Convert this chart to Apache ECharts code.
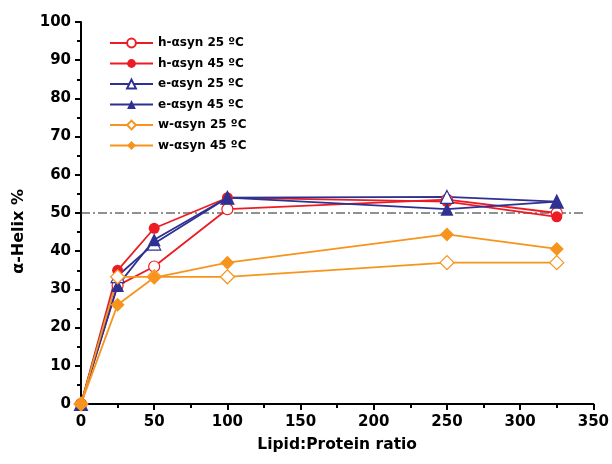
<!DOCTYPE html>
<html><head><meta charset="utf-8">
<script src="https://cdn.jsdelivr.net/npm/echarts@6/dist/echarts.min.js"></script>
<style>html,body{margin:0;padding:0;background:#fff}#c{width:612px;height:464px}</style>
</head><body><div id="c"></div>
<script>
const ratios = [0, 25, 50, 100, 250, 325];
const h25 = [0, 31, 36, 51, 53.5, 50];
const h45 = [0, 35, 46, 54, 53, 49];
const e25 = [0, 33.5, 42, 54, 54.2, 53];
const e45 = [0, 31, 43, 54, 51, 53];
const w25 = [0, 33.3, 33.3, 33.3, 37, 37];
const w45 = [0, 26, 33.1, 37, 44.4, 40.6];
const refLineX = [0, 345];
const refLineY = 50;
const names = ['h-αsyn 25 ºC','h-αsyn 45 ºC','e-αsyn 25 ºC','e-αsyn 45 ºC','w-αsyn 25 ºC','w-αsyn 45 ºC'];
const yTitle = 'α-Helix %';
const xTitle = 'Lipid:Protein ratio';

const RED = '#ec1c24', BLUE = '#2e3192', ORANGE = '#f7941d';
function pts(arr){ return ratios.map((x,i)=>[x, arr[i]]); }
function ser(name, arr, color, symbol, size, open){
  return {
    name, type:'line', data: pts(arr), symbol, symbolSize: size, clip:false,
    showAllSymbol:true,
    lineStyle:{color, width:1.8},
    itemStyle: open ? {color:'#fff', borderColor:color, borderWidth:1.2} : {color, borderColor:color, borderWidth:0},
    emphasis:{disabled:true}, animation:false
  };
}
const chart = echarts.init(document.getElementById('c'));
const font = 'DejaVu Sans, sans-serif';
chart.setOption({
  animation:false,
  grid:{left:81, right:16, top:22, bottom:60},
  legend:{
    data:names, orient:'vertical', left:104, top:32, itemWidth:43, itemHeight:11, itemGap:8.5,
    textStyle:{fontFamily:font, fontWeight:'bold', fontSize:12, color:'#000'}
  },
  graphic:[{
    type:'text', left:11, top:189,
    style:{text:yTitle, font:'bold 16px DejaVu Sans, sans-serif', fill:'#000'},
    rotation:Math.PI/2, originX:0, originY:0
  }],
  xAxis:{
    type:'value', min:0, max:350, interval:50,
    name:xTitle, nameLocation:'middle', nameGap:33,
    nameTextStyle:{fontFamily:font, fontWeight:'bold', fontSize:15.5, color:'#000'},
    axisLine:{lineStyle:{color:'#000', width:2}},
    axisTick:{length:6, lineStyle:{color:'#000', width:2}},
    minorTick:{show:true, splitNumber:2, length:4, lineStyle:{color:'#000', width:2}},
    axisLabel:{fontFamily:font, fontWeight:'bold', fontSize:15, color:'#000', margin:11},
    splitLine:{show:false}
  },
  yAxis:{
    type:'value', min:0, max:100, interval:10,
    axisLine:{lineStyle:{color:'#000', width:2}},
    axisTick:{length:6, lineStyle:{color:'#000', width:2}},
    minorTick:{show:true, splitNumber:2, length:4, lineStyle:{color:'#000', width:2}},
    axisLabel:{fontFamily:font, fontWeight:'bold', fontSize:15, color:'#000', margin:10},
    splitLine:{show:false}
  },
  series:[
    {type:'line', data: refLineX.map(x=>[x, refLineY]), symbol:'none', silent:true,
     lineStyle:{color:'#222', width:1, type:[9,3,2,3]}, z:1, animation:false},
    ser(names[0], h25, RED, 'circle', 11, true),
    ser(names[1], h45, RED, 'circle', 11, false),
    ser(names[2], e25, BLUE, 'triangle', 13, true),
    ser(names[3], e45, BLUE, 'triangle', 13, false),
    ser(names[4], w25, ORANGE, 'diamond', 14, true),
    ser(names[5], w45, ORANGE, 'diamond', 14, false)
  ]
});
</script></body></html>
